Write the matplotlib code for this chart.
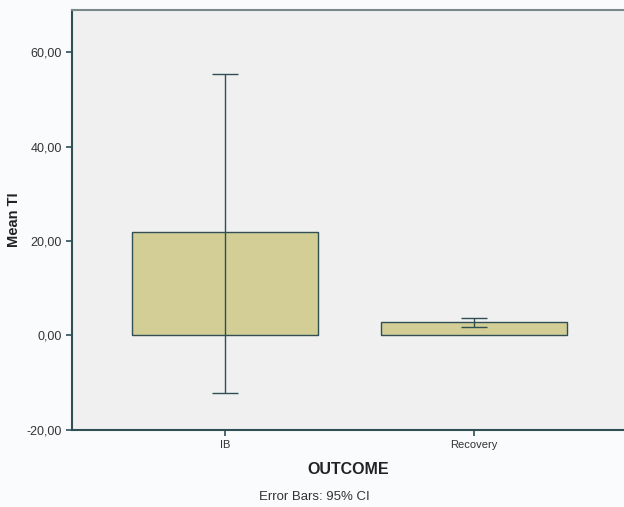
import numpy as np
import matplotlib.pyplot as plt

plt.rcParams['font.family'] = ['Liberation Sans', 'DejaVu Sans']

# outcome groups and mean TI with 95% CI
groups = ['IB', 'Recovery']
means = [21.9, 2.8]
ci_low = [-12.1, 1.9]
ci_high = [55.4, 3.8]
yticks = [-20, 0, 20, 40, 60]

fig = plt.figure(figsize=(6.24, 5.07), dpi=100, facecolor='#fafbfd')
ax = fig.add_axes([0.1154, 0.1519, 0.8846, 0.8284])
ax.set_facecolor('#f0f0f0')

x = np.arange(len(groups))
means = np.array(means)
err = [means - np.array(ci_low), np.array(ci_high) - means]
edge = '#2f4f55'

ax.bar(x, means, width=0.75, color='#d2ce96', edgecolor=edge, linewidth=1.0, zorder=2)
ax.errorbar(x, means, yerr=err, fmt='none', ecolor=edge, elinewidth=1.0,
            capsize=9.5, capthick=1.0, zorder=3)

ax.set_xlim(-0.614, 1.602)
ax.set_ylim(-20, 68.9)
ax.set_xticks(x)
ax.set_xticklabels(groups, fontsize=8)
ax.set_yticks(yticks)
ax.set_yticklabels([('%.2f' % v).replace('.', ',') for v in yticks], fontsize=9)

for s in ['left', 'bottom']:
    ax.spines[s].set_color(edge)
    ax.spines[s].set_linewidth(1.5)
ax.spines['top'].set_color('#7a8a8c')
ax.spines['top'].set_linewidth(1.5)
ax.spines['right'].set_visible(False)

ax.tick_params(axis='both', colors=edge, labelcolor='#333333',
               length=4, width=1.2, direction='out')

ax.set_ylabel('Mean TI', fontsize=10.5, fontweight='bold', color='#222222', labelpad=4)
ax.set_xlabel('OUTCOME', fontsize=11.5, fontweight='bold', color='#222222', labelpad=8)

fig.text(314 / 624, 1 - 497 / 507, 'Error Bars: 95% CI', ha='center', va='center',
         fontsize=9.5, color='#333333')

fig.savefig('out.png', dpi=100, facecolor=fig.get_facecolor())
